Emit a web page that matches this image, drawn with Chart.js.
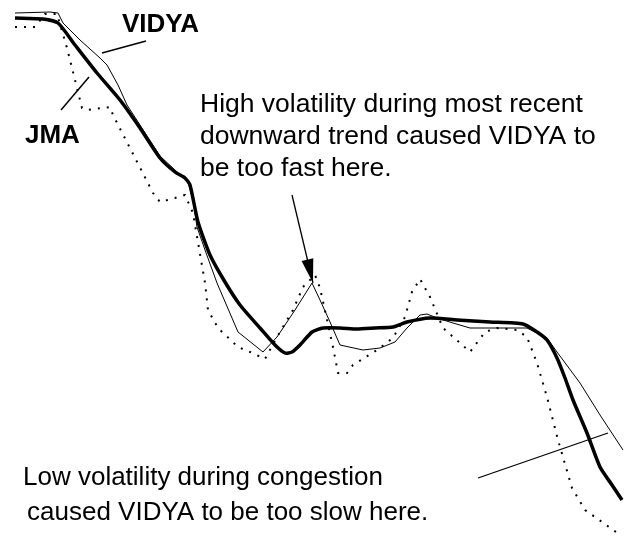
<!DOCTYPE html>
<html>
<head>
<meta charset="utf-8">
<script src="https://cdn.jsdelivr.net/npm/chart.js@4"></script>
<style>
  body { margin: 0; background: #fff; }
  canvas { display: block; }
</style>
</head>
<body>
<canvas id="chart" width="629" height="540"></canvas>
<script>
// price (dotted)
var priceBars = [1.5,3.5,4.5,5.7,6.7,8.2,8.7,11.0,11.3,15.3,16.0,17.5,18.5,19.3,20.5,20.8,21.8,23.8,25.0,26.5,27.7,29.3,30.3,31.5,32.0,33.3,33.8,34.7,35.3,37.7,39.3,40.5,41.2,42.0,43.0,44.3,46.0,47.0,48.5,49.7,51.7,52.7,53.7,54.7,55.8,57.2,58.5,60.2,62.0];
var priceValues = [51.3,51.3,52.6,52.6,49.2,43.2,43.0,43.3,42.5,34.7,33.8,34.2,34.5,32.7,25.7,23.0,21.2,19.3,18.8,18.1,20.3,23.0,25.3,26.5,25.2,19.3,16.7,16.7,17.5,19.0,20.2,22.3,24.8,26.1,24.3,21.2,19.7,18.8,20.8,21.2,21.0,20.3,17.7,14.3,10.0,5.2,3.0,1.8,0.5];

// VIDYA (thin)
var vidyaBars = [1.5,5.0,5.8,6.3,8.0,10.0,10.7,11.8,12.7,14.0,16.0,17.5,18.8,19.3,19.7,20.5,21.7,23.8,26.3,27.7,29.5,31.2,32.0,33.0,34.0,36.3,38.0,39.5,40.7,42.0,42.7,43.7,45.3,47.0,51.3,52.7,54.7,55.7,58.0,60.0,62.3];
var vidyaValues = [52.7,52.8,52.7,51.7,50.0,48.2,47.5,45.5,43.5,41.5,38.4,37.0,35.8,34.0,31.3,29.0,25.7,20.8,18.8,20.3,23.0,25.7,24.0,21.8,19.5,19.0,19.2,19.8,21.2,22.5,22.6,22.2,21.7,21.2,21.2,21.2,20.2,18.8,15.7,12.5,9.0];

// JMA (thick)
var jmaBars = [1.5,4.3,5.8,7.5,9.7,12.0,14.0,16.0,17.5,18.5,19.0,19.8,21.0,22.5,24.0,26.0,27.5,28.5,29.2,30.0,31.2,32.3,34.0,35.7,37.5,39.3,40.7,43.0,45.7,49.0,52.3,53.7,54.7,55.7,56.5,57.3,58.7,60.0,61.2,62.2];
var jmaValues = [52.2,52.1,51.7,49.5,46.7,44.0,41.2,38.2,36.8,36.2,35.5,31.8,28.5,25.8,23.5,21.2,19.5,18.7,18.8,19.5,20.8,21.2,21.2,21.1,21.2,21.3,21.8,22.2,22.0,21.8,21.6,20.8,20.0,18.2,16.2,14.0,10.7,7.3,5.5,4.0];

function pts(xs, ys) {
  return xs.map(function (x, i) { return { x: x, y: ys[i] }; });
}

var FONT = '"Liberation Sans", Arial, sans-serif';

// notes and leader lines drawn over the lines
var notesPlugin = {
  id: 'notes',
  afterDatasetsDraw: function (chart) {
    var ctx = chart.ctx;
    var xs = chart.scales.x, ys = chart.scales.y;
    function P(x, y) { return [xs.getPixelForValue(x), ys.getPixelForValue(y)]; }
    function seg(a, b, w) {
      var p = P(a[0], a[1]), q = P(b[0], b[1]);
      ctx.beginPath();
      ctx.lineWidth = w;
      ctx.moveTo(p[0], p[1]);
      ctx.lineTo(q[0], q[1]);
      ctx.stroke();
      return [p, q];
    }
    ctx.save();
    ctx.strokeStyle = '#000';
    ctx.fillStyle = '#000';

    // leader lines
    seg([10.2, 48.7], [14.6, 49.9], 1.5);   // VIDYA
    seg([6.1, 43.0], [8.9, 46.3], 1.5);     // JMA
    seg([47.8, 6.2], [60.8, 10.7], 1.3);    // low volatility

    // arrow pointing at the VIDYA peak
    var ab = seg([29.2, 34.5], [31.3, 25.7], 1.3);
    var p = ab[0], q = ab[1];
    var ang = Math.atan2(q[1] - p[1], q[0] - p[0]);
    var len = 24, half = 6;
    var bx = q[0] - len * Math.cos(ang), by = q[1] - len * Math.sin(ang);
    ctx.beginPath();
    ctx.moveTo(q[0], q[1]);
    ctx.lineTo(bx + half * Math.sin(ang), by - half * Math.cos(ang));
    ctx.lineTo(bx - half * Math.sin(ang), by + half * Math.cos(ang));
    ctx.closePath();
    ctx.fill();

    ctx.textBaseline = 'alphabetic';
    ctx.textAlign = 'left';
    ctx.font = 'bold 26px ' + FONT;
    ctx.fillText('VIDYA', 122, 32);
    ctx.fillText('JMA', 25, 143);

    ctx.font = '26.5px ' + FONT;
    ctx.fillText('High volatility during most recent', 200, 112);
    ctx.fillText('downward trend caused VIDYA to', 200, 144);
    ctx.fillText('be too fast here.', 200, 176);

    ctx.font = '26px ' + FONT;
    ctx.fillText('Low volatility during congestion', 23, 485);
    ctx.fillText('caused VIDYA to be too slow here.', 27, 520);
    ctx.restore();
  }
};

var chart = new Chart(document.getElementById('chart').getContext('2d'), {
  type: 'line',
  data: {
    datasets: [
      {
        label: 'Price',
        data: pts(priceBars, priceValues),
        borderColor: '#000',
        borderWidth: 2,
        borderDash: [2, 7],
        pointRadius: 0,
        tension: 0
      },
      {
        label: 'VIDYA',
        data: pts(vidyaBars, vidyaValues),
        borderColor: '#000',
        borderWidth: 1,
        pointRadius: 0,
        tension: 0
      },
      {
        label: 'JMA',
        data: pts(jmaBars, jmaValues),
        borderColor: '#000',
        borderWidth: 3.5,
        pointRadius: 0,
        tension: 0.2
      }
    ]
  },
  options: {
    responsive: false,
    animation: false,
    layout: { padding: 0 },
    plugins: {
      legend: { display: false },
      tooltip: { enabled: false }
    },
    scales: {
      x: { type: 'linear', min: 0, max: 62.9, display: false },
      y: { type: 'linear', min: 0, max: 54, display: false }
    }
  },
  plugins: [notesPlugin]
});
</script>
</body>
</html>
